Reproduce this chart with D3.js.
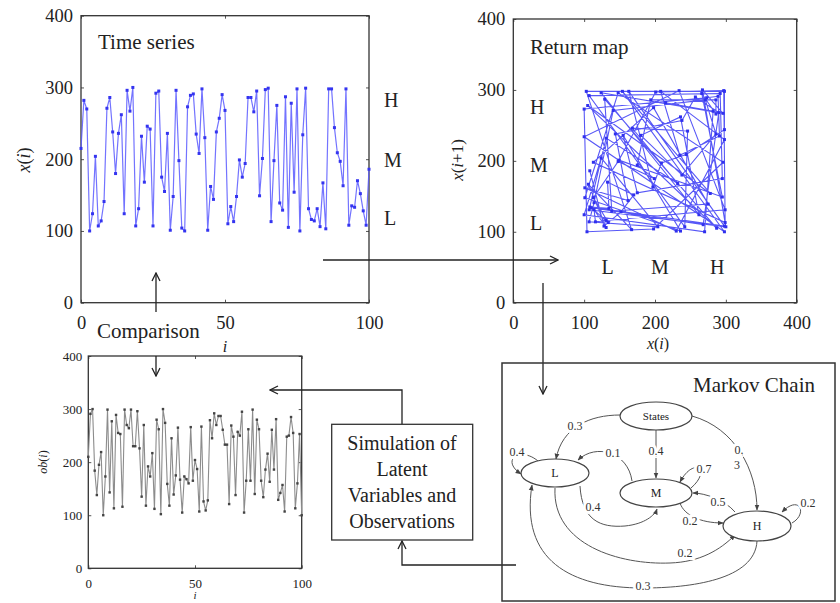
<!DOCTYPE html>
<html>
<head>
<meta charset="utf-8">
<script src="https://cdn.jsdelivr.net/npm/d3@7"></script>
<style>
  body { margin: 0; background: #fff; }
  svg { display: block; font-family: "Liberation Serif", "Times New Roman", serif; }
</style>
</head>
<body>
<svg id="chart" width="840" height="603"></svg>
<script>
const series = [215, 282, 270, 100, 124, 204, 107, 114, 141, 271,
  286, 238, 180, 236, 262, 124, 296, 267, 300, 107,
  131, 232, 168, 246, 242, 107, 292, 295, 175, 155,
  236, 101, 148, 296, 198, 104, 100, 273, 289, 291,
  235, 208, 298, 230, 101, 162, 144, 238, 257, 290,
  268, 110, 134, 113, 148, 199, 175, 194, 286, 286,
  266, 295, 149, 201, 297, 299, 113, 198, 275, 139,
  129, 287, 105, 278, 154, 298, 100, 234, 299, 131,
  116, 114, 131, 106, 167, 103, 298, 298, 244, 209,
  197, 163, 298, 108, 135, 133, 170, 152, 128, 108, 186]

// ob(i), simulated observations (i = 0..100)
const observed = [210, 291, 300, 184, 138, 195, 219, 100, 173, 299,
  143, 277, 113, 289, 255, 253, 116, 299, 270, 264,
  299, 230, 230, 296, 226, 135, 270, 118, 192, 173,
  217, 112, 280, 262, 102, 300, 274, 159, 118, 245,
  139, 175, 265, 167, 105, 173, 168, 160, 266, 165,
  204, 187, 107, 267, 126, 109, 128, 279, 245, 292,
  270, 287, 287, 261, 233, 233, 121, 269, 248, 138,
  257, 250, 295, 105, 165, 262, 165, 299, 140, 280,
  262, 165, 134, 186, 216, 163, 261, 186, 281, 129,
  142, 157, 107, 248, 250, 285, 255, 113, 160, 253, 100]

const tickX = [0, 50, 100]
const tickY = [0, 100, 200, 300, 400]
const tickMap = [0, 100, 200, 300, 400]
const levels = ['L', 'M', 'H']

// Markov chain: initial and transition probabilities
const states = ['L', 'M', 'H']
const initial = [0.3, 0.4, 0.3]
const transition = [
  [0.4, 0.4, 0.2],
  [0.1, 0.7, 0.2],
  [0.3, 0.5, 0.2]
]

const svg = d3.select('#chart')
const INK = '#333'

const defs = svg.append('defs')
defs.append('marker').attr('id', 'open').attr('viewBox', '0 0 10 10')
  .attr('refX', 9).attr('refY', 5).attr('markerWidth', 10).attr('markerHeight', 10)
  .attr('markerUnits', 'userSpaceOnUse').attr('orient', 'auto')
  .append('path').attr('d', 'M1,1 L9,5 L1,9').attr('fill', 'none').attr('stroke', '#222').attr('stroke-width', 1.3)
defs.append('marker').attr('id', 'tri').attr('viewBox', '0 0 10 10')
  .attr('refX', 9).attr('refY', 5).attr('markerWidth', 6).attr('markerHeight', 6)
  .attr('markerUnits', 'userSpaceOnUse').attr('orient', 'auto')
  .append('path').attr('d', 'M0,1 L10,5 L0,9 Z').attr('fill', '#444')

// generic framed plot with inward ticks
function frame(x, y, xt, yt, fontSize, padX, padY) {
  const g = svg.append('g')
  const [x0, x1] = x.range(), [y1, y0] = y.range()
  g.append('g').attr('transform', `translate(0,${y1})`)
    .call(d3.axisBottom(x).tickValues(xt).tickSizeInner(-3).tickSizeOuter(0).tickPadding(padX))
  g.append('g').attr('transform', `translate(0,${y0})`)
    .call(d3.axisTop(x).tickValues(xt).tickSizeInner(-3).tickSizeOuter(0).tickFormat(''))
  g.append('g').attr('transform', `translate(${x0},0)`)
    .call(d3.axisLeft(y).tickValues(yt).tickSizeInner(-3).tickSizeOuter(0).tickPadding(padY))
  g.append('g').attr('transform', `translate(${x1},0)`)
    .call(d3.axisRight(y).tickValues(yt).tickSizeInner(-3).tickSizeOuter(0).tickFormat(''))
  g.selectAll('.domain').remove()
  g.selectAll('.tick line').attr('stroke', '#555')
  g.selectAll('.tick text').attr('fill', '#222').style('font-size', fontSize + 'px')
    .style('font-family', '"Liberation Serif", serif')
  g.append('rect').attr('x', x0).attr('y', y0).attr('width', x1 - x0).attr('height', y1 - y0)
    .attr('fill', 'none').attr('stroke', INK).attr('stroke-width', 1.3)
  return g
}

function label(txt, x, y, size, opts = {}) {
  const t = svg.append('text').attr('x', x).attr('y', y).attr('fill', '#222')
    .style('font-size', size + 'px').attr('text-anchor', opts.anchor || 'start')
  if (opts.rotate) t.attr('transform', `rotate(-90,${x},${y})`)
  if (opts.italic) t.style('font-style', 'italic')
  if (opts.html) t.html(txt); else t.text(txt)
  return t
}

// ---- Time series panel
const xT = d3.scaleLinear().domain([0, 100]).range([81, 369])
const yT = d3.scaleLinear().domain([0, 400]).range([302.7, 15.7])
frame(xT, yT, tickX, tickY, 18.5, 13, 8)
const tsLine = d3.line().x((d, i) => xT(i)).y(d => yT(d))
svg.append('path').datum(series).attr('d', tsLine).attr('fill', 'none')
  .attr('stroke', '#5a5aff').attr('stroke-width', 1.2).attr('opacity', 0.85)
svg.append('g').selectAll('rect').data(series).join('rect')
  .attr('x', (d, i) => xT(i) - 1.5).attr('y', d => yT(d) - 1.5)
  .attr('width', 3).attr('height', 3).attr('fill', '#3434f0')
label('Time series', 98, 49, 21)
label('<tspan font-style="italic">x</tspan>(<tspan font-style="italic">i</tspan>)', 30, 160, 18, { rotate: true, anchor: 'middle', html: true })
const tsLevelY = [118, 199, 282]
levels.forEach((l, k) => label(l, 384, yT(tsLevelY[k]) + 7, 20))
label('i', 225, 352, 16, { italic: true, anchor: 'middle' })

// ---- Return map panel
const xR = d3.scaleLinear().domain([0, 400]).range([513.3, 796.7])
const yR = d3.scaleLinear().domain([0, 400]).range([302.7, 19])
frame(xR, yR, tickMap, tickMap, 18.5, 13, 8)
const pairs = d3.pairs(series)
svg.append('path').datum(pairs)
  .attr('d', d3.line().x(d => xR(d[0])).y(d => yR(d[1])))
  .attr('fill', 'none').attr('stroke', '#3a3af5').attr('stroke-width', 1.1).attr('opacity', 0.85)
svg.append('g').selectAll('rect').data(pairs).join('rect')
  .attr('x', d => xR(d[0]) - 1.5).attr('y', d => yR(d[1]) - 1.5)
  .attr('width', 3).attr('height', 3).attr('fill', '#3030ee')
label('Return map', 530, 54, 21)
label('<tspan font-style="italic">x</tspan>(<tspan font-style="italic">i</tspan>+1)', 463, 160, 17, { rotate: true, anchor: 'middle', html: true })
label('<tspan font-style="italic">x</tspan>(<tspan font-style="italic">i</tspan>)', 658, 349, 16, { anchor: 'middle', html: true })
const mapLevelY = [112, 194, 276]
const mapLevelX = [133, 207, 288]
levels.forEach((l, k) => label(l, 530, yR(mapLevelY[k]) + 7, 20))
levels.forEach((l, k) => label(l, xR(mapLevelX[k]), 274, 20, { anchor: 'middle' }))

// ---- Observation panel
const xO = d3.scaleLinear().domain([0, 100]).range([88.3, 301.7])
const yO = d3.scaleLinear().domain([0, 400]).range([568.3, 356])
frame(xO, yO, tickX, tickY, 13, 10, 6)
svg.append('path').datum(observed).attr('d', d3.line().x((d, i) => xO(i)).y(d => yO(d)))
  .attr('fill', 'none').attr('stroke', '#8c8c8c').attr('stroke-width', 1.1)
svg.append('g').selectAll('rect').data(observed).join('rect')
  .attr('x', (d, i) => xO(i) - 1.2).attr('y', d => yO(d) - 1.2)
  .attr('width', 2.4).attr('height', 2.4).attr('fill', '#444')
label('<tspan font-style="italic">ob</tspan>(<tspan font-style="italic">i</tspan>)', 47, 462, 12, { rotate: true, anchor: 'middle', html: true })
label('i', 195, 599, 11, { italic: true, anchor: 'middle' })

// ---- Flow arrows and boxes
const flow = svg.append('g').attr('fill', 'none').attr('stroke', '#222').attr('stroke-width', 1.3)
;[
  'M156,312 L156,273',
  'M156,356 L156,376',
  'M323,260 L558,260',
  'M543,283 L543,394',
  'M402,424 L402,390 L270,390',
  'M516,565 L402,565 L402,541'
].forEach(d => flow.append('path').attr('d', d).attr('marker-end', 'url(#open)'))

label('Comparison', 97, 338, 21)

svg.append('rect').attr('x', 331.7).attr('y', 424.3).attr('width', 141).attr('height', 115.7)
  .attr('fill', '#fff').attr('stroke', INK).attr('stroke-width', 1.3)
;['Simulation of', 'Latent', 'Variables and', 'Observations']
  .forEach((s, k) => label(s, 402, 450 + k * 26, 20, { anchor: 'middle' }))

// ---- Markov chain
svg.append('rect').attr('x', 502).attr('y', 363).attr('width', 333).attr('height', 238)
  .attr('fill', 'none').attr('stroke', INK).attr('stroke-width', 1.5)
label('Markov Chain', 815, 392, 21, { anchor: 'end' })

const nodePos = {
  S: { x: 656, y: 416, rx: 36, ry: 14 },
  L: { x: 555, y: 473, rx: 34, ry: 14 },
  M: { x: 656, y: 493, rx: 36, ry: 14 },
  H: { x: 757, y: 526, rx: 34, ry: 15 }
}
// edge geometry: [from, to, path, label x, label y]
const edgeGeom = [
  ['S', 'L', 'M620,415 C590,415 562,427 556,459', 575, 430],
  ['S', 'M', 'M656,430 L656,478', 656, 455],
  ['S', 'H', 'M692,416 C735,428 757,470 757,510', 739, 458],
  ['L', 'L', 'M538,461 C520,446 500,460 521,474', 517, 456],
  ['L', 'M', 'M580,486 C582,520 600,528 625,526 C645,524 655,515 657,509', 593, 511],
  ['L', 'H', 'M555,488 C552,545 620,565 670,563 C700,562 720,550 735,535', 685, 557],
  ['M', 'L', 'M632,481 C628,452 596,443 578,460', 613, 457],
  ['M', 'M', 'M691,488 C712,470 694,456 680,482', 704, 473],
  ['M', 'H', 'M680,503 C684,515 700,523 723,523', 690, 525],
  ['H', 'L', 'M757,541 C755,580 690,588 643,588 C570,588 520,560 532,485', 643, 590],
  ['H', 'M', 'M735,512 C725,500 705,493 693,493', 718, 506],
  ['H', 'H', 'M792,523 C808,514 800,494 782,512', 808, 507]
]
const probOf = (a, b) => a === 'S' ? initial[states.indexOf(b)] : transition[states.indexOf(a)][states.indexOf(b)]

const mk = svg.append('g')
mk.selectAll('path.edge').data(edgeGeom).join('path').attr('class', 'edge')
  .attr('d', d => d[2]).attr('fill', 'none').attr('stroke', '#555').attr('stroke-width', 1)
  .attr('marker-end', 'url(#tri)')
mk.selectAll('text.prob').data(edgeGeom).join('text').attr('class', 'prob')
  .attr('x', d => d[3]).attr('y', d => d[4]).attr('text-anchor', 'middle')
  .attr('fill', '#333').style('font-size', '12px')
  .attr('stroke', '#fff').attr('stroke-width', 6).attr('paint-order', 'stroke')
  .each(function (d) {
    const v = String(probOf(d[0], d[1]))
    const t = d3.select(this)
    if (d[0] === 'S' && d[1] === 'H') {
      t.append('tspan').attr('x', d[3]).attr('dy', -4).text(v.slice(0, 2))
      t.append('tspan').attr('x', d[3] - 2).attr('dy', 15).text(v.slice(2))
    } else t.text(v)
  })

const nodes = Object.entries(nodePos)
mk.selectAll('ellipse').data(nodes).join('ellipse')
  .attr('cx', d => d[1].x).attr('cy', d => d[1].y).attr('rx', d => d[1].rx).attr('ry', d => d[1].ry)
  .attr('fill', '#fff').attr('stroke', '#444').attr('stroke-width', 1.2)
mk.selectAll('text.node').data(nodes).join('text').attr('class', 'node')
  .attr('x', d => d[1].x).attr('y', d => d[1].y + 4).attr('text-anchor', 'middle')
  .attr('fill', '#222').style('font-size', d => d[0] === 'S' ? '11px' : '12px')
  .text(d => d[0] === 'S' ? 'States' : d[0])
</script>
</body>
</html>
